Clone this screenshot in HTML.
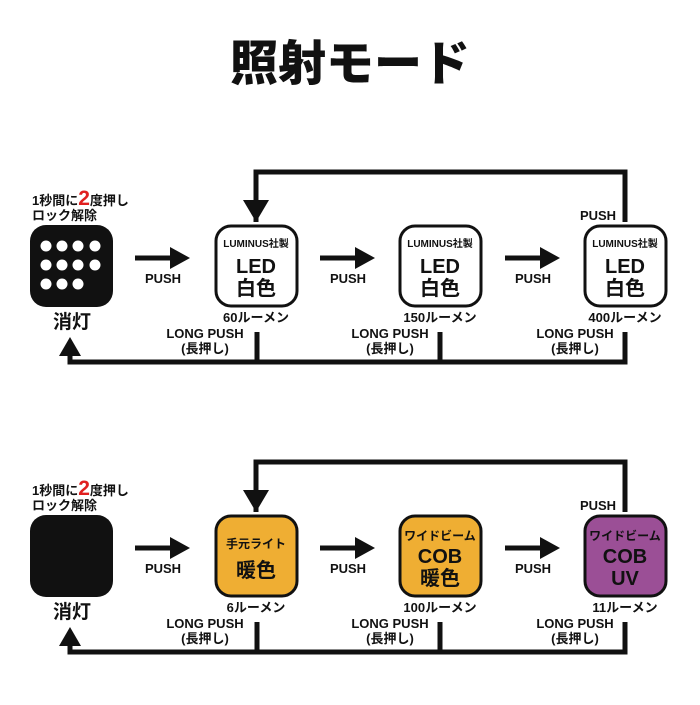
<!DOCTYPE html>
<html><head><meta charset="utf-8"><style>
body{margin:0;width:700px;height:700px;background:#fff;overflow:hidden;font-family:"Liberation Sans","Noto Sans CJK JP",sans-serif;font-weight:bold;color:#111}
</style></head><body>
<svg width="700" height="700" viewBox="0 0 700 700" xmlns="http://www.w3.org/2000/svg" font-family="Liberation Sans, Noto Sans CJK JP, sans-serif" font-weight="bold" fill="#111">
<text x="350" y="80" font-size="48" text-anchor="middle" font-weight="900">照射モード</text>
<defs>
<g id="row">
  <path d="M256 222 V172 H625 V222" fill="none" stroke="#111" stroke-width="5"/>
  <polygon points="243,200 269,200 256,222" />
  <path d="M257 332 V362 H70 V354" fill="none" stroke="#111" stroke-width="5"/>
  <path d="M440 332 V362 M625 332 V362 H257" fill="none" stroke="#111" stroke-width="5"/>
  <polygon points="59,356 81,356 70,337" />
  <g stroke="#111" stroke-width="5"><line x1="135" y1="258" x2="172" y2="258"/><line x1="320" y1="258" x2="357" y2="258"/><line x1="505" y1="258" x2="542" y2="258"/></g>
  <polygon points="170,247 190,258 170,269"/><polygon points="355,247 375,258 355,269"/><polygon points="540,247 560,258 540,269"/>
  <g font-size="13" text-anchor="middle">
   <text x="163" y="283">PUSH</text><text x="348" y="283">PUSH</text><text x="533" y="283">PUSH</text>
   <text x="598" y="220">PUSH</text>
   <text x="205" y="338">LONG PUSH</text><text x="205" y="353">(長押し)</text>
   <text x="390" y="338">LONG PUSH</text><text x="390" y="353">(長押し)</text>
   <text x="575" y="338">LONG PUSH</text><text x="575" y="353">(長押し)</text>
  </g>
  <text x="32" y="205" font-size="13">1秒間に<tspan fill="#e02020" font-size="21">2</tspan>度押し</text>
  <text x="32" y="220" font-size="13">ロック解除</text>
  <text x="72" y="328" font-size="19" text-anchor="middle">消灯</text>
</g>
</defs>
<use href="#row"/>
<use href="#row" transform="translate(0,290)"/>
<rect x="30" y="225" width="83" height="82" rx="16" fill="#111"/>
<g fill="#fff"><circle cx="46" cy="246" r="5.5"/><circle cx="62" cy="246" r="5.5"/><circle cx="78" cy="246" r="5.5"/><circle cx="95" cy="246" r="5.5"/>
<circle cx="46" cy="265" r="5.5"/><circle cx="62" cy="265" r="5.5"/><circle cx="78" cy="265" r="5.5"/><circle cx="95" cy="265" r="5.5"/>
<circle cx="46" cy="284" r="5.5"/><circle cx="62" cy="284" r="5.5"/><circle cx="78" cy="284" r="5.5"/></g>
<g fill="#fff" stroke="#111" stroke-width="3">
<rect x="216" y="226" width="81" height="80" rx="15"/><rect x="400" y="226" width="81" height="80" rx="15"/><rect x="585" y="226" width="81" height="80" rx="15"/></g>
<g text-anchor="middle">
<text x="256" y="247" font-size="10">LUMINUS社製</text><text x="256" y="273" font-size="20">LED</text><text x="256" y="295" font-size="20">白色</text>
<text x="440" y="247" font-size="10">LUMINUS社製</text><text x="440" y="273" font-size="20">LED</text><text x="440" y="295" font-size="20">白色</text>
<text x="625" y="247" font-size="10">LUMINUS社製</text><text x="625" y="273" font-size="20">LED</text><text x="625" y="295" font-size="20">白色</text>
<text x="256" y="322" font-size="13">60ルーメン</text><text x="440" y="322" font-size="13">150ルーメン</text><text x="625" y="322" font-size="13">400ルーメン</text>
</g>
<rect x="30" y="515" width="83" height="82" rx="16" fill="#111"/>
<g stroke="#111" stroke-width="3">
<rect x="216" y="516" width="81" height="80" rx="15" fill="#efae33"/><rect x="400" y="516" width="81" height="80" rx="15" fill="#efae33"/><rect x="585" y="516" width="81" height="80" rx="15" fill="#9b4f96"/></g>
<g text-anchor="middle">
<text x="256" y="548" font-size="12">手元ライト</text><text x="256" y="577" font-size="20">暖色</text>
<text x="440" y="540" font-size="12">ワイドビーム</text><text x="440" y="563" font-size="20">COB</text><text x="440" y="585" font-size="20">暖色</text>
<text x="625" y="540" font-size="12">ワイドビーム</text><text x="625" y="563" font-size="20">COB</text><text x="625" y="585" font-size="20">UV</text>
<text x="256" y="612" font-size="13">6ルーメン</text><text x="440" y="612" font-size="13">100ルーメン</text><text x="625" y="612" font-size="13">11ルーメン</text>
</g>
</svg>
</body></html>
